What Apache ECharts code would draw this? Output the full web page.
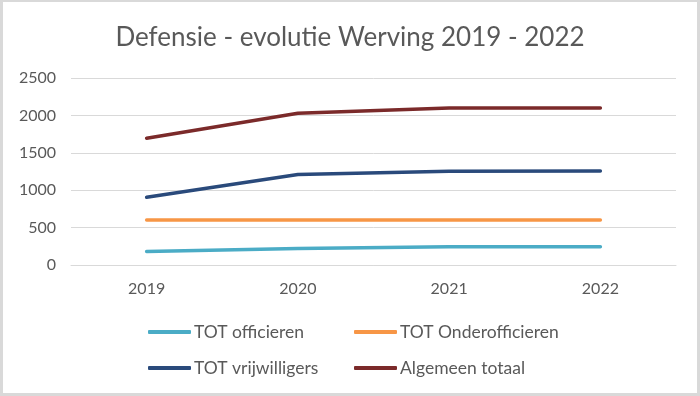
<!DOCTYPE html>
<html>
<head>
<meta charset="utf-8">
<script src="https://cdn.jsdelivr.net/npm/echarts@6/dist/echarts.min.js"></script>
<style>
    html, body { margin: 0; padding: 0; background: #fff; }
    #wrap { position: relative; width: 700px; height: 396px; }
    #chart { position: absolute; left: 0; top: 0; width: 700px; height: 396px; }
    #frame { position: absolute; left: 0; top: 0; width: 700px; height: 396px;
             box-sizing: border-box; border: 3px solid #d9d9d9; border-top-width: 2px; pointer-events: none; }
</style>
</head>
<body>
<div id="wrap">
    <div id="chart"></div>
    <div id="frame"></div>
</div>
<script>
    var years = ['2019', '2020', '2021', '2022'];
    var officieren = [180, 220, 245, 245];
    var onderofficieren = [600, 600, 600, 600];
    var vrijwilligers = [905, 1210, 1255, 1258];
    var totaal = [1695, 2030, 2098, 2098];

    var names = ['TOT officieren', 'TOT Onderofficieren', 'TOT vrijwilligers', 'Algemeen totaal'];
    var colors = ['#4bacc6', '#f79646', '#2a4a7b', '#7b2a2a'];
    var values = [officieren, onderofficieren, vrijwilligers, totaal];

    var font = 'Lato';
    var textColor = '#595959';

    var chart = echarts.init(document.getElementById('chart'), null, {renderer: 'canvas'});

    var series = [];
    for (var i = 0; i < names.length; i++) {
        series.push({
            name: names[i],
            type: 'line',
            data: values[i],
            symbol: 'none',
            color: colors[i],
            lineStyle: {width: 3.5, color: colors[i], cap: 'round', join: 'round'},
            z: 2 + i
        });
    }

    // legend placed like the Excel one: two columns, two rows
    var legendPos = [[148, 323], [354, 323], [148, 359], [354, 359]];
    var legends = [];
    for (var j = 0; j < names.length; j++) {
        legends.push({
            left: legendPos[j][0],
            top: legendPos[j][1],
            data: [{name: names[j], icon: 'roundRect'}],
            itemWidth: 43,
            itemHeight: 4,
            itemGap: 0,
            padding: 0,
            selectedMode: false,
            textStyle: {color: textColor, fontFamily: font, fontSize: 17.5, padding: [0, 0, 0, -2]}
        });
    }

    var option = {
        animation: false,
        backgroundColor: '#fff',
        title: {
            text: 'Defensie - evolutie Werving 2019 - 2022',
            left: 'center',
            top: 20,
            textStyle: {color: textColor, fontFamily: font, fontSize: 26, fontWeight: 'normal'}
        },
        legend: legends,
        grid: {left: 71, right: 24, top: 78, bottom: 131, containLabel: false},
        xAxis: {
            type: 'category',
            data: years,
            boundaryGap: true,
            axisLine: {lineStyle: {color: '#d9d9d9', width: 1}},
            axisTick: {show: false},
            axisLabel: {color: textColor, fontFamily: font, fontSize: 16, margin: 16}
        },
        yAxis: {
            type: 'value',
            min: 0,
            max: 2500,
            interval: 500,
            axisLine: {show: false},
            axisTick: {show: false},
            splitLine: {lineStyle: {color: '#d9d9d9', width: 1}},
            axisLabel: {color: textColor, fontFamily: font, fontSize: 16, margin: 15,
                formatter: function (v) { return String(v); }}
        },
        series: series
    };
    chart.setOption(option);
</script>
</body>
</html>
